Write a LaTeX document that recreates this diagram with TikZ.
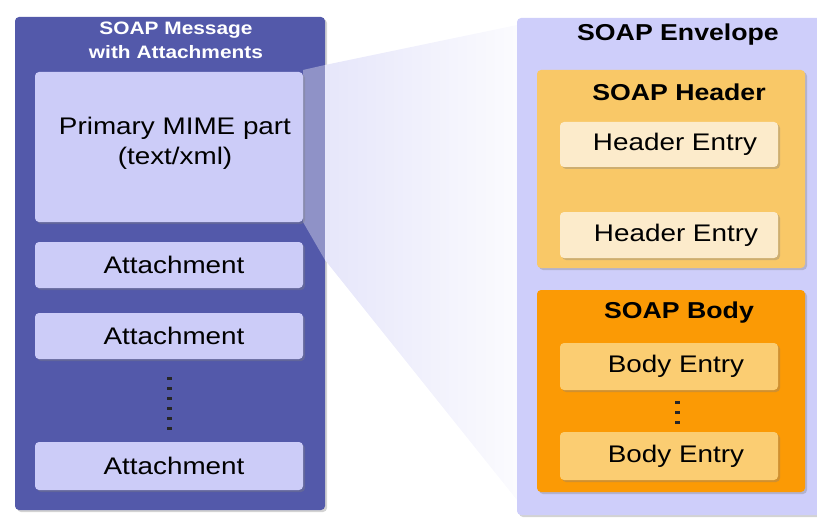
\documentclass[tikz,border=0pt]{standalone}
\usepackage{fontspec}
\setmainfont{Liberation Sans}[FakeStretch=1.16]
\usetikzlibrary{shadows}
\definecolor{msgblue}{RGB}{83,89,170}
\definecolor{partlav}{RGB}{204,204,248}
\definecolor{envlav}{RGB}{206,206,250}
\definecolor{hdrorange}{RGB}{249,200,103}
\definecolor{hdrentry}{RGB}{252,235,203}
\definecolor{bodyorange}{RGB}{251,154,5}
\definecolor{bodyentry}{RGB}{251,205,114}
\newcommand{\entryfont}{\fontsize{24}{30}\selectfont}
\newcommand{\headfont}{\fontsize{23}{28}\selectfont\bfseries}
\begin{document}
\begin{tikzpicture}[x=1pt,y=-1pt,
    box/.style={rounded corners=4pt,inner sep=0pt,
      drop shadow={shadow xshift=2pt,shadow yshift=-2pt,opacity=0.35}},
    part/.style={box,fill=partlav,minimum width=268pt,font=\entryfont},
    entry/.style={box,minimum width=218pt,font=\entryfont}]
      \useasboundingbox (0,0) rectangle (817,532);
      % message side
      \node[box,fill=msgblue,minimum width=310pt,minimum height=493pt] (msg) at (170,263.5) {};
      \node[text=white,font=\fontsize{18}{24}\selectfont\bfseries,align=center] (msgtitle) at (176,40)
        {SOAP Message\\with Attachments};
      % funnel to envelope
      \shade[left color={rgb,255:red,230;green,230;blue,250},right color={rgb,255:red,251;green,251;blue,254}]
        (325,65) -- (517,25) -- (517,500) -- (325,260) -- cycle;
      \fill[white,opacity=0.35] (303,70) -- (325,65) -- (325,260) -- (303,222) -- cycle;
      \node[part,minimum height=150pt,align=center,text depth=12pt] (mime) at (169,147)
        {\hspace*{12pt}Primary MIME part\\\hspace*{12pt}(text/xml)};
      \node[part,minimum height=46pt] (att1) at (169,265) {\hspace*{10pt}Attachment};
      \node[part,minimum height=46pt] (att2) at (169,336) {\hspace*{10pt}Attachment};
      \node[part,minimum height=48pt] (att3) at (169,466) {\hspace*{10pt}Attachment};
      \draw[black!85,line width=5pt,dash pattern=on 3pt off 7pt,shorten <=18pt,shorten >=11pt]
        (att2.south) -- (att3.north);
      % envelope side
      \node[box,fill=envlav,minimum width=305pt,minimum height=497pt] (env) at (669.5,266.5) {};
      \node[font=\headfont] (envtitle) at (678,35) {SOAP Envelope};
      \node[box,fill=hdrorange,minimum width=268pt,minimum height=198pt] (hdr) at (671,169) {};
      \node[font=\headfont] (hdrtitle) at (679,92) {SOAP Header};
      \node[entry,fill=hdrentry,minimum height=45pt] (he1) at (669,144.5) {\hspace*{12pt}Header Entry};
      \node[entry,fill=hdrentry,minimum height=46pt] (he2) at (669,235) {\hspace*{14pt}Header Entry};
      \node[box,fill=bodyorange,minimum width=268pt,minimum height=202pt] (body) at (671,391) {};
      \node[font=\headfont] (bodytitle) at (679,313) {SOAP Body};
      \node[entry,fill=bodyentry,minimum height=47pt] (be1) at (669,366.5) {\hspace*{14pt}Body Entry};
      \node[entry,fill=bodyentry,minimum height=48pt] (be2) at (669,456) {\hspace*{14pt}Body Entry};
      \draw[black!85,line width=5pt,dash pattern=on 3pt off 7pt,shorten <=11pt,shorten >=8pt]
        ([xshift=8pt]be1.south) -- ([xshift=8pt]be2.north);
\end{tikzpicture}
\end{document}
